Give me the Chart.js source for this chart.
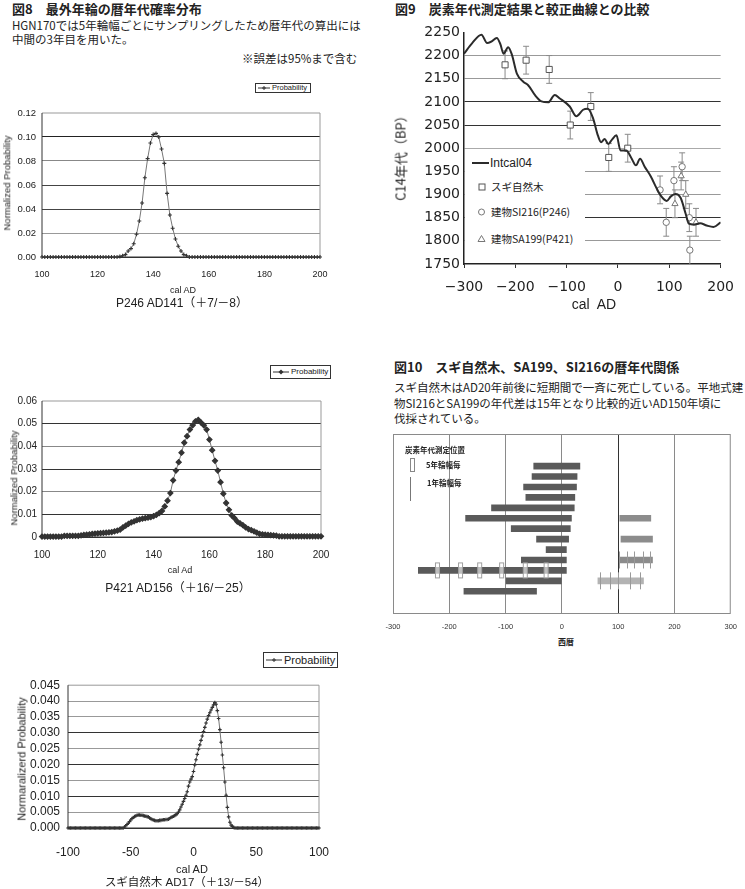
<!DOCTYPE html>
<html lang="ja"><head>
<meta charset="UTF-8">
<title>図8・図9・図10 暦年代</title>
<script src="https://cdn.jsdelivr.net/npm/chart.js"></script>
<style>
  body { margin: 0; background: #fff; }
  #page { position: relative; width: 745px; height: 889px; overflow: hidden;
          font-family: "Noto Sans CJK JP", sans-serif; color: #222; }
  .t { position: absolute; white-space: nowrap; line-height: 1; }
  .c { transform: translateX(-50%); }
  .rot { transform: translate(-50%, -50%) rotate(-90deg); }
  .h { font-weight: bold; font-size: 13px; }
  .lat { font-family: "Liberation Sans", Arial, sans-serif; }
  .cap { font-family: "Liberation Sans", "Noto Sans CJK JP", sans-serif; }
  .wrap { position: absolute; }
  .legend { position: absolute; border: 1px solid #333; background: #fff; box-sizing: border-box;
            font-family: "Liberation Sans", Arial, sans-serif; display: flex; align-items: center; line-height: 1; }
  .legend svg { flex: none; }
</style>
</head>
<body>
<div id="page">
  <!-- 図8 -->
  <div class="t h" style="left:12px;top:2px">図8　最外年輪の暦年代確率分布</div>
  <div class="t" style="left:12px;top:20px;font-size:11.5px">HGN170では5年輪幅ごとにサンプリングしたため暦年代の算出には</div>
  <div class="t" style="left:12px;top:34px;font-size:11.5px">中間の3年目を用いた。</div>
  <div class="t" style="left:242px;top:53px;font-size:11.5px">※誤差は95%まで含む</div>

  <div class="legend" style="left:255px;top:83px;width:56px;height:10px;font-size:7.5px">
    <svg width="16" height="8"><line x1="2" y1="4" x2="14" y2="4" stroke="#333"/><path d="M8 2v4M6 4h4" stroke="#333"/></svg><span>Probability</span>
  </div>
  <div class="wrap" style="left:0;top:100px;width:372px;height:190px"><canvas id="p246"></canvas></div>
  <div class="t lat rot" style="left:7px;top:183px;font-size:9.5px">Normalized Probability</div>
  <div class="t lat c" style="left:183px;top:286px;font-size:9px">cal AD</div>
  <div class="t cap c" style="left:182px;top:297px;font-size:12px">P246 AD141（＋7/－8）</div>

  <div class="legend" style="left:270px;top:365px;width:61px;height:14px;font-size:8px">
    <svg width="20" height="10"><line x1="2" y1="5" x2="18" y2="5" stroke="#333"/><path d="M10 2.5l2.5 2.5-2.5 2.5-2.5-2.5z" fill="#333"/></svg><span>Probability</span>
  </div>
  <div class="wrap" style="left:0;top:390px;width:372px;height:180px"><canvas id="p421"></canvas></div>
  <div class="t lat rot" style="left:14px;top:478px;font-size:9.5px">Normalized Probability</div>
  <div class="t lat c" style="left:180px;top:566px;font-size:9px">cal Ad</div>
  <div class="t cap c" style="left:178px;top:582px;font-size:12px">P421 AD156（＋16/－25）</div>

  <div class="legend" style="left:263px;top:652px;width:75px;height:16px;font-size:11px">
    <svg width="20" height="10"><line x1="2" y1="5" x2="18" y2="5" stroke="#333"/><path d="M10 3v4M8 5h4" stroke="#333"/></svg><span>Probability</span>
  </div>
  <div class="wrap" style="left:0;top:670px;width:372px;height:200px"><canvas id="sugi"></canvas></div>
  <div class="t lat rot" style="left:22px;top:759px;font-size:11px">Normaralizerd Probability</div>
  <div class="t lat c" style="left:192px;top:864px;font-size:11px">cal AD</div>
  <div class="t cap c" style="left:187px;top:877px;font-size:11.5px">スギ自然木 AD17（＋13/－54）</div>

  <!-- 図9 -->
  <div class="t h" style="left:395px;top:2px">図9　炭素年代測定結果と較正曲線との比較</div>
  <div class="wrap" style="left:372px;top:20px;width:373px;height:280px"><canvas id="c14"></canvas></div>
  <div class="t rot" style="left:400px;top:155px;font-size:13px">C14年代（BP）</div>
  <div class="t lat c" style="left:594px;top:297px;font-size:14px">cal&nbsp; AD</div>
  <div class="t" style="left:465px;top:151px;width:120px;height:100px;background:#fff"></div>
  <svg class="t" style="left:470px;top:156px" width="24" height="92">
    <line x1="2" y1="7" x2="19" y2="7" stroke="#2b2b2b" stroke-width="2"/>
    <rect x="9" y="28" width="6" height="6" fill="#fff" stroke="#555"/>
    <circle cx="11.5" cy="56" r="3" fill="#fff" stroke="#777"/>
    <path d="M11.5 79.5l3.5 6h-7z" fill="#fff" stroke="#777"/>
  </svg>
  <div class="t lat" style="left:490px;top:157px;font-size:12px">Intcal04</div>
  <div class="t" style="left:491px;top:182px;font-size:10.5px">スギ自然木</div>
  <div class="t" style="left:491px;top:207px;font-size:10.5px">建物SI216(P246)</div>
  <div class="t" style="left:491px;top:234px;font-size:10.5px">建物SA199(P421)</div>

  <!-- 図10 -->
  <div class="t h" style="left:394px;top:360px">図10　スギ自然木、SA199、SI216の暦年代関係</div>
  <div class="t" style="left:394px;top:382px;font-size:11.5px">スギ自然木はAD20年前後に短期間で一斉に死亡している。平地式建</div>
  <div class="t" style="left:394px;top:398px;font-size:11.5px">物SI216とSA199の年代差は15年となり比較的近いAD150年頃に</div>
  <div class="t" style="left:394px;top:413px;font-size:11.5px">伐採されている。</div>
  <div class="wrap" style="left:372px;top:425px;width:373px;height:210px"><canvas id="ring"></canvas></div>
  <div class="t" style="left:405px;top:446px;font-size:7.5px;font-weight:bold">炭素年代測定位置</div>
  <div class="t" style="left:410px;top:458px;width:5px;height:14px;border:1px solid #888;box-sizing:border-box"></div>
  <div class="t" style="left:426px;top:461px;font-size:7.5px;font-weight:bold">5年輪幅毎</div>
  <div class="t" style="left:410px;top:477px;width:1px;height:24px;background:#777"></div>
  <div class="t" style="left:427px;top:479px;font-size:7.5px;font-weight:bold">1年輪幅毎</div>
  <div class="t c" style="left:566px;top:638px;font-size:8px;font-weight:bold">西暦</div>
</div>

<script>
  // 図8 probability distributions, one value per calendar year
  const p246Start = 100;
  const p246Prob = [
    0, 0, 0, 0, 0, 0, 0, 0, 0, 0,
    0, 0, 0, 0, 0, 0, 0, 0, 0, 0,
    0, 0, 0, 0, 0, 0, 0, 0, 0.0005,
    0.001, 0.002, 0.005, 0.007, 0.011, 0.019, 0.030, 0.045, 0.066, 0.082,
    0.095, 0.102, 0.103, 0.100, 0.090, 0.078, 0.053, 0.035, 0.024, 0.015,
    0.009, 0.005, 0.002, 0.001,
    0, 0, 0, 0, 0, 0, 0, 0, 0, 0,
    0, 0, 0, 0, 0, 0, 0, 0, 0, 0,
    0, 0, 0, 0, 0, 0, 0, 0, 0, 0,
    0, 0, 0, 0, 0, 0, 0, 0, 0, 0,
    0, 0, 0, 0, 0, 0, 0, 0
  ];

  const p421Start = 100;
  const p421Prob = [
    0.0002, 0.0002, 0.0002, 0.0002, 0.0002, 0.0002, 0.0002, 0.0002,
    0.0005, 0.0005, 0.0005, 0.0005, 0.0005, 0.0005,
    0.0007, 0.0009, 0.001, 0.0012, 0.0014, 0.0015, 0.0016, 0.0017, 0.0018, 0.0019,
    0.002, 0.0022, 0.0025, 0.0028, 0.0032, 0.0042, 0.005, 0.0058, 0.0064, 0.0069,
    0.0074, 0.0078, 0.0081, 0.0083, 0.0085, 0.0088, 0.0092, 0.0098, 0.0105, 0.0115,
    0.0135, 0.016, 0.0194, 0.025, 0.0293, 0.033, 0.0372, 0.0416, 0.0445, 0.0474,
    0.0493, 0.051, 0.0517, 0.0505, 0.0493, 0.0474, 0.043, 0.0383, 0.0336, 0.0293,
    0.0242, 0.0191, 0.015, 0.012, 0.0095, 0.0083, 0.0068, 0.006, 0.0052, 0.0042,
    0.0035, 0.003, 0.0025, 0.0019, 0.0014, 0.0012, 0.001, 0.0009, 0.0008, 0.0007, 0.0006,
    0.0003, 0.0003, 0.0003, 0.0003, 0.0003, 0.0003, 0.0003, 0.0003,
    0.0003, 0.0003, 0.0003, 0.0003, 0.0003, 0.0003, 0.0003, 0.0003
  ];

  const sugiStartYear = -100;
  const sugiProb = [
    0, 0, 0, 0, 0, 0, 0, 0, 0, 0,
    0, 0, 0, 0, 0, 0, 0, 0, 0, 0,
    0, 0, 0, 0, 0, 0, 0, 0, 0, 0,
    0, 0, 0, 0, 0, 0, 0, 0, 0, 0,
    0, 0, 0, 0, 0,
    0.0003, 0.0007, 0.0011, 0.0015, 0.002, 0.0025, 0.003, 0.0033, 0.0036, 0.0038,
    0.004, 0.0041, 0.0041, 0.004, 0.004, 0.0039, 0.0038, 0.0037, 0.0036, 0.0035,
    0.0032, 0.0029, 0.0027, 0.0025, 0.0024, 0.0023, 0.0023, 0.0023, 0.0024, 0.0024,
    0.0025, 0.0026, 0.0026, 0.0027, 0.0027, 0.0028, 0.003, 0.0033, 0.0035, 0.0037,
    0.0039, 0.0042, 0.0045, 0.005, 0.0057, 0.0066, 0.0075, 0.0084, 0.0093, 0.0103,
    0.0114, 0.0132, 0.0145, 0.0154, 0.0162, 0.0178, 0.0199, 0.0215, 0.0232, 0.0248,
    0.0262, 0.0276, 0.029, 0.0304, 0.0317, 0.0331, 0.0343, 0.0354, 0.0363, 0.0372,
    0.038, 0.0388, 0.0395, 0.039, 0.037, 0.0345, 0.031, 0.027, 0.023, 0.019,
    0.0145, 0.0103, 0.0065, 0.0035, 0.0018, 0.0009, 0.0005, 0.0002,
    0, 0, 0, 0, 0, 0, 0, 0, 0, 0,
    0, 0, 0, 0, 0, 0, 0, 0, 0, 0,
    0, 0, 0, 0, 0, 0, 0, 0, 0, 0,
    0, 0, 0, 0, 0, 0, 0, 0, 0, 0,
    0, 0, 0, 0, 0, 0, 0, 0, 0, 0,
    0, 0, 0, 0, 0, 0, 0, 0, 0, 0,
    0, 0, 0, 0, 0, 0, 0, 0
  ];

  // 図9 calibration curve and measured dates
  const intcalYear = [-300, -284, -266, -255, -247, -236, -229, -223, -214, -207, -197, -184, -175,
    -162, -149, -136, -123, -114, -94, -81, -68, -59, -49, -39, -33, -26, -19, -12, -3, 5, 16,
    26, 35, 43, 52, 64, 75, 83, 95, 103, 112, 122, 132, 138, 148, 160, 173, 186, 200];
  const intcalBP = [2204, 2227, 2245, 2227, 2230, 2238, 2224, 2204, 2218, 2203, 2161, 2143, 2136,
    2115, 2101, 2099, 2115, 2108, 2090, 2069, 2083, 2085, 2066, 2027, 2013, 2020, 2009, 2018, 2028, 1995, 1995,
    1979, 1963, 1977, 1960, 1939, 1914, 1898, 1886, 1896, 1901, 1893, 1858, 1837, 1835, 1838, 1833, 1830, 1840];

  const sugiYear = [-220, -179, -134, -93, -53, -18, 19];
  const sugiBP   = [2180, 2190, 2170, 2050, 2090, 1980, 2000];
  const sugiErr  = [30, 30, 30, 30, 30, 30, 30];
  const si216Year = [82, 94, 109, 125, 139, 140];
  const si216BP   = [1910, 1840, 1930, 1960, 1850, 1780];
  const si216Err  = [30, 30, 30, 30, 30, 30];
  const sa199Year = [111, 123, 132, 152];
  const sa199BP   = [1880, 1940, 1900, 1840];
  const sa199Err  = [30, 30, 30, 30];

  // 図10 ring ranges per sample row (row 1 at top)
  const rowIds    = [1, 2, 3, 4, 5, 6, 7, 8, 9, 10, 11, 12, 13];
  const sugiFrom  = [-50, -53, -68, -64, -125, -171, -90, -45, -28, -72, -255, -99, -174];
  const sugiTo    = [32, 27, 26, 23, 22, 17, 15, 12, 8, 8, 8, 0, -45];
  const bldgRow   = [6, 8, 10, 12];
  const bldgFrom  = [103, 105, 102, 64];
  const bldgTo    = [158, 161, 161, 145];
  const fiveRingRow = 11;
  const fiveRingYear = [-221, -180, -146, -107, -65, -28];
  const oneRingRow = [10, 12];
  const oneRingYear = [[102, 115, 129, 145, 157], [67, 86, 100, 121, 138]];

  Chart.defaults.font.family = '"Liberation Sans", Arial, sans-serif';
  Chart.defaults.color = '#222';

  const framePlugin = {
    id: 'frame',
    beforeDatasetsDraw(chart, args, opts) {
      const { ctx, chartArea: a } = chart;
      ctx.save();
      ctx.lineWidth = 1;
      ctx.strokeStyle = opts.light || '#999';
      ctx.beginPath();
      ctx.moveTo(a.left, a.top); ctx.lineTo(a.right, a.top); ctx.lineTo(a.right, a.bottom);
      ctx.stroke();
      ctx.strokeStyle = opts.dark || '#333';
      ctx.beginPath();
      ctx.moveTo(a.left, a.top); ctx.lineTo(a.left, a.bottom); ctx.lineTo(a.right, a.bottom);
      ctx.stroke();
      ctx.restore();
    }
  };

  function probChart(id, start, probs, cfg) {
    const points = probs.map((p, i) => ({ x: start + i, y: p }));
    return new Chart(document.getElementById(id), {
      type: 'scatter',
      data: {
        datasets: [{
          data: points,
          showLine: true,
          borderColor: '#777',
          borderWidth: 1,
          pointStyle: cfg.pointStyle,
          pointRadius: cfg.pointRadius,
          pointBorderColor: '#333',
          pointBackgroundColor: '#333',
          pointBorderWidth: 1.1,
          clip: false
        }]
      },
      options: {
        responsive: true,
        maintainAspectRatio: false,
        animation: false,
        layout: { padding: { top: cfg.padTop, right: cfg.padRight, left: 0, bottom: 0 } },
        plugins: { legend: { display: false }, tooltip: { enabled: false }, frame: {} },
        scales: {
          x: {
            type: 'linear', min: cfg.xMin, max: cfg.xMax,
            ticks: { stepSize: cfg.xStep, maxRotation: 0, autoSkip: false, padding: cfg.xPad, font: { size: cfg.xFont } },
            grid: { display: false, drawTicks: false },
            border: { display: false },
            afterFit: s => { s.height = cfg.xHeight; }
          },
          y: {
            min: 0, max: cfg.yMax,
            ticks: { stepSize: cfg.yStep, autoSkip: false, padding: cfg.yPad, font: { size: cfg.yFont }, callback: cfg.fmt },
            grid: { drawTicks: false, color: c => cfg.gridColors[c.index] || '#999' },
            border: { display: false },
            afterFit: s => { s.width = cfg.yWidth; }
          }
        }
      },
      plugins: [framePlugin]
    });
  }

  probChart('p246', p246Start, p246Prob, {
    pointStyle: 'cross', pointRadius: 2,
    padTop: 13, padRight: 52, xHeight: 33, yWidth: 42, xPad: 12, yPad: 6, xFont: 9, yFont: 9.5,
    xMin: 100, xMax: 200, xStep: 20, yMax: 0.12, yStep: 0.02,
    fmt: v => v.toFixed(2),
    gridColors: ['#333', '#999', '#444', '#444', '#888', '#222', 'transparent']
  });

  probChart('p421', p421Start, p421Prob, {
    pointStyle: 'rectRot', pointRadius: 2.6,
    padTop: 9, padRight: 51, xHeight: 33, yWidth: 42, xPad: 12, yPad: 5, xFont: 10, yFont: 10,
    xMin: 100, xMax: 200, xStep: 20, yMax: 0.06, yStep: 0.01,
    fmt: v => (v === 0 ? '0' : v.toFixed(2)),
    gridColors: ['#333', '#333', '#888', '#333', '#888', '#333', 'transparent']
  });

  probChart('sugi', sugiStartYear, sugiProb, {
    pointStyle: 'cross', pointRadius: 1.8,
    padTop: 8, padRight: 53, xHeight: 42, yWidth: 68, xPad: 17, yPad: 8, xFont: 12, yFont: 12,
    xMin: -100, xMax: 100, xStep: 50, yMax: 0.045, yStep: 0.005,
    fmt: v => v.toFixed(3),
    gridColors: ['#333', '#999', '#333', '#999', '#333', '#999', '#333', '#999', '#999', 'transparent']
  });

  // error bars drawn from the data through the y scale
  const errorBars = {
    id: 'errorBars',
    beforeDatasetsDraw(chart) {
      const { ctx, scales: { y } } = chart;
      ctx.save();
      ctx.strokeStyle = '#8a8a8a';
      ctx.lineWidth = 1;
      chart.data.datasets.forEach((ds, di) => {
        if (!ds.errBP) return;
        chart.getDatasetMeta(di).data.forEach((pt, i) => {
          const v = ds.data[i].y;
          const top = y.getPixelForValue(v + ds.errBP[i]);
          const bot = Math.min(y.getPixelForValue(v - ds.errBP[i]), chart.chartArea.bottom);
          ctx.beginPath();
          ctx.moveTo(pt.x, top); ctx.lineTo(pt.x, bot);
          ctx.moveTo(pt.x - 3, top); ctx.lineTo(pt.x + 3, top);
          if (bot < chart.chartArea.bottom) { ctx.moveTo(pt.x - 3, bot); ctx.lineTo(pt.x + 3, bot); }
          ctx.stroke();
        });
      });
      ctx.restore();
    }
  };

  const c14Grid = ['transparent', '#999', '#333', '#999', '#999', '#aaa', '#333', '#333', '#999', '#999', 'transparent'];

  new Chart(document.getElementById('c14'), {
    type: 'scatter',
    data: {
      datasets: [
        {
          label: 'Intcal04',
          data: intcalYear.map((x, i) => ({ x, y: intcalBP[i] })),
          showLine: true, borderColor: '#2b2b2b', borderWidth: 2, pointRadius: 0,
          cubicInterpolationMode: 'monotone'
        },
        {
          label: 'スギ自然木',
          data: sugiYear.map((x, i) => ({ x, y: sugiBP[i] })), errBP: sugiErr,
          pointStyle: 'rect', pointRadius: 4.3, pointBorderColor: '#555', pointBackgroundColor: '#fff', pointBorderWidth: 1
        },
        {
          label: '建物SI216(P246)',
          data: si216Year.map((x, i) => ({ x, y: si216BP[i] })), errBP: si216Err,
          pointStyle: 'circle', pointRadius: 3.2, pointBorderColor: '#777', pointBackgroundColor: '#fff', pointBorderWidth: 1
        },
        {
          label: '建物SA199(P421)',
          data: sa199Year.map((x, i) => ({ x, y: sa199BP[i] })), errBP: sa199Err,
          pointStyle: 'triangle', pointRadius: 3.6, pointBorderColor: '#777', pointBackgroundColor: '#fff', pointBorderWidth: 1
        }
      ]
    },
    options: {
      responsive: true,
      maintainAspectRatio: false,
      animation: false,
      layout: { padding: { top: 8, right: 22, left: 0, bottom: 0 } },
      plugins: { legend: { display: false }, tooltip: { enabled: false } },
      scales: {
        x: {
          type: 'linear', min: -300, max: 200,
          ticks: { stepSize: 100, padding: 11, maxRotation: 0, font: { family: '"DejaVu Sans", sans-serif', size: 14 },
                   callback: v => String(v).replace('-', '−') },
          grid: { drawOnChartArea: false, tickLength: 4, color: '#333' },
          border: { color: '#222', width: 1.5 },
          afterFit: s => { s.height = 36; }
        },
        y: {
          min: 1750, max: 2250,
          ticks: { stepSize: 50, autoSkip: false, padding: 4, font: { family: '"DejaVu Sans", sans-serif', size: 14 },
                   callback: v => String(v) },
          grid: { drawTicks: false, color: c => c14Grid[c.index] || '#999' },
          border: { color: '#222', width: 1.5 },
          afterFit: s => { s.width = 92; }
        }
      }
    },
    plugins: [errorBars]
  });

  const ringMarks = {
    id: 'ringMarks',
    beforeDatasetsDraw(chart) {
      const { ctx, chartArea: a } = chart;
      ctx.save();
      ctx.strokeStyle = '#8a8a8a';
      ctx.lineWidth = 1;
      ctx.strokeRect(a.left + 0.5, a.top + 0.5, a.width - 1, a.height - 1);
      ctx.restore();
    },
    afterDatasetsDraw(chart) {
      const { ctx, scales: { x, y } } = chart;
      ctx.save();
      ctx.lineWidth = 1;
      const yc = y.getPixelForValue(fiveRingRow);
      fiveRingYear.forEach(v => {
        const px = x.getPixelForValue(v);
        ctx.fillStyle = 'rgba(255,255,255,0.6)';
        ctx.strokeStyle = '#a0a0a0';
        ctx.fillRect(px - 2, yc - 7.5, 4, 15);
        ctx.strokeRect(px - 2, yc - 7.5, 4, 15);
      });
      ctx.strokeStyle = '#9a9a9a';
      oneRingRow.forEach((r, k) => {
        const yr = y.getPixelForValue(r);
        oneRingYear[k].forEach(v => {
          const px = Math.round(x.getPixelForValue(v)) + 0.5;
          ctx.beginPath();
          ctx.moveTo(px, yr - 8.5); ctx.lineTo(px, yr + 8.5);
          ctx.stroke();
        });
      });
      ctx.restore();
    }
  };

  new Chart(document.getElementById('ring'), {
    type: 'bar',
    data: {
      datasets: [
        {
          label: 'スギ自然木',
          data: rowIds.map((r, i) => ({ x: [sugiFrom[i], sugiTo[i]], y: r })),
          backgroundColor: '#5a5a5a', barThickness: 6, grouped: false
        },
        {
          label: '建物',
          data: bldgRow.map((r, i) => ({ x: [bldgFrom[i], bldgTo[i]], y: r })),
          backgroundColor: ['#8c8c8c', '#8c8c8c', '#8c8c8c', '#b3b3b3'], barThickness: 6, grouped: false
        }
      ]
    },
    options: {
      indexAxis: 'y',
      responsive: true,
      maintainAspectRatio: false,
      animation: false,
      layout: { padding: { top: 9, right: 6, left: 21, bottom: 0 } },
      plugins: { legend: { display: false }, tooltip: { enabled: false } },
      scales: {
        y: { type: 'linear', min: -1, max: 14.1, reverse: true, display: false },
        x: {
          type: 'linear', min: -300, max: 300,
          ticks: { stepSize: 100, padding: 8, maxRotation: 0, color: '#333', font: { size: 7.5 } },
          grid: { drawTicks: false, color: c => (c.tick.value === 100 ? '#333' : (Math.abs(c.tick.value) === 300 ? 'transparent' : '#8a8a8a')) },
          border: { display: false },
          afterFit: s => { s.height = 21; }
        }
      }
    },
    plugins: [ringMarks]
  });
</script>
</body></html>
